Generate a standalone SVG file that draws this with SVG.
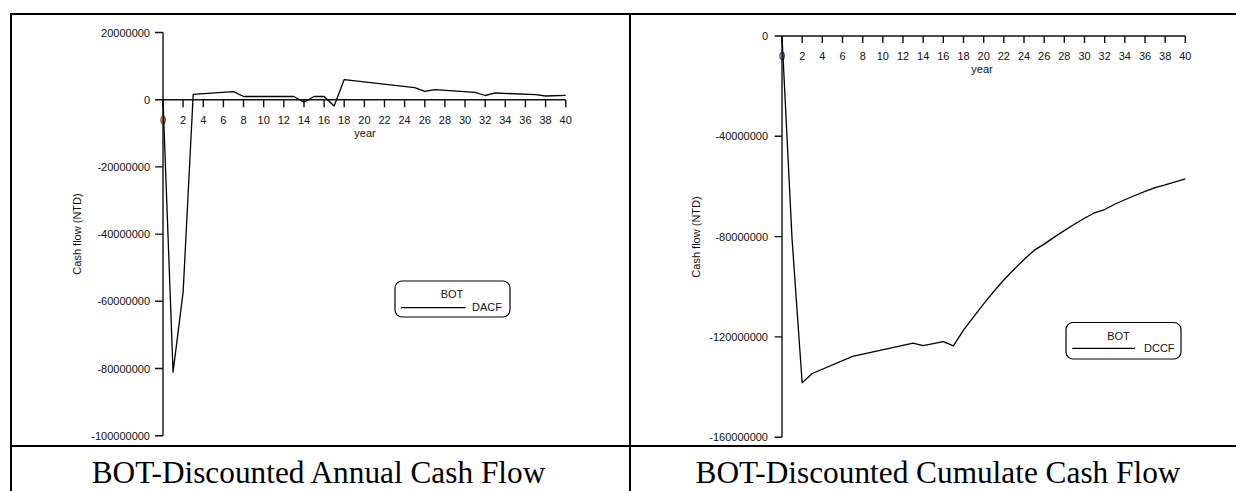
<svg xmlns="http://www.w3.org/2000/svg" width="1236" height="491" viewBox="0 0 1236 491">
  <style>
    .frame { stroke: #000; stroke-width: 2; fill: none; }
    .axis { stroke: #111; stroke-width: 1.4; fill: none; }
    .series { stroke: #000; stroke-width: 1.3; fill: none; stroke-linejoin: round; vector-effect: non-scaling-stroke; }
    .tick { font-family: "Liberation Sans", Arial, sans-serif; font-size: 11px; fill: #111; }
    .ylab { text-anchor: end; }
    .xlab { text-anchor: middle; }
    .legend-box { fill: #fff; stroke: #000; stroke-width: 1.2; }
    .legend-line { stroke: #000; stroke-width: 1.3; }
    .caption { font-family: "Liberation Serif", "Times New Roman", serif; font-size: 31.3px; fill: #000; text-anchor: middle; }
  </style>

  <rect width="1236" height="491" fill="#fff"/>

  <!-- table frame -->
  <g id="frame" class="frame">
    <line x1="10" y1="14" x2="1236" y2="14"/>
    <line x1="11" y1="13" x2="11" y2="491"/>
    <line x1="630" y1="13" x2="630" y2="491"/>
    <line x1="10" y1="446" x2="1236" y2="446"/>
  </g>

  <!-- Annual discounted cash flow chart -->
  <g id="chart-annual">
    <g class="axis">
      <path d="M163 32.5V435.7"/>
      <path d="M155 32.5H163M155 99.7H163M155 166.9H163M155 234.1H163M155 301.3H163M155 368.5H163M155 435.7H163"/>
      <path d="M163 99.7H565.7"/>
      <path d="M163 99.7v7.5M183.1 99.7v7.5M203.3 99.7v7.5M223.4 99.7v7.5M243.5 99.7v7.5M263.7 99.7v7.5M283.8 99.7v7.5M304 99.7v7.5M324.1 99.7v7.5M344.2 99.7v7.5M364.4 99.7v7.5M384.5 99.7v7.5M404.6 99.7v7.5M424.8 99.7v7.5M444.9 99.7v7.5M465 99.7v7.5M485.2 99.7v7.5M505.3 99.7v7.5M525.4 99.7v7.5M545.6 99.7v7.5M565.7 99.7v7.5"/>
    </g>
    <g class="tick ylab">
      <text x="150" y="36.5">20000000</text>
      <text x="150" y="103.7">0</text>
      <text x="150" y="170.9">-20000000</text>
      <text x="150" y="238.1">-40000000</text>
      <text x="150" y="305.3">-60000000</text>
      <text x="150" y="372.5">-80000000</text>
      <text x="150" y="439.7">-100000000</text>
    </g>
    <g class="tick xlab">
      <text x="163" y="124">0</text>
      <text x="183.1" y="124">2</text>
      <text x="203.3" y="124">4</text>
      <text x="223.4" y="124">6</text>
      <text x="243.5" y="124">8</text>
      <text x="263.7" y="124">10</text>
      <text x="283.8" y="124">12</text>
      <text x="304" y="124">14</text>
      <text x="324.1" y="124">16</text>
      <text x="344.2" y="124">18</text>
      <text x="364.4" y="124">20</text>
      <text x="384.5" y="124">22</text>
      <text x="404.6" y="124">24</text>
      <text x="424.8" y="124">26</text>
      <text x="444.9" y="124">28</text>
      <text x="465" y="124">30</text>
      <text x="485.2" y="124">32</text>
      <text x="505.3" y="124">34</text>
      <text x="525.4" y="124">36</text>
      <text x="545.6" y="124">38</text>
      <text x="565.7" y="124">40</text>
      <text x="365" y="136.5">year</text>
    </g>
    <text class="tick xlab" transform="translate(81 234) rotate(-90)">Cash flow (NTD)</text>
    <!-- DACF series: year vs. million NTD -->
    <polyline class="series" transform="translate(163 99.7) scale(10.068 -3.36)"
      points="0,0 1,-81.1 2,-57.2 3,1.6 7,2.4 8,0.95 13,0.95 14,-0.75 15,0.95 16,0.95 17,-1.9 18,6.0 25,3.6 26,2.5 27,3.0 31,2.2 32,1.25 33,2.0 37,1.5 38,1.1 40,1.3"/>
    <g id="legend-annual">
      <rect class="legend-box" x="395" y="281" width="115" height="36" rx="7"/>
      <text class="tick xlab" x="452" y="298.3">BOT</text>
      <line class="legend-line" x1="401" y1="307.7" x2="465.7" y2="307.7"/>
      <text class="tick" x="472" y="311.3">DACF</text>
    </g>
  </g>

  <!-- Cumulative discounted cash flow chart -->
  <g id="chart-cumulative">
    <g class="axis">
      <path d="M782 36V437.2"/>
      <path d="M774.7 36H782M774.7 136.3H782M774.7 236.6H782M774.7 336.9H782M774.7 437.2H782"/>
      <path d="M782 36H1185.3"/>
      <path d="M782 36v7M802.2 36v7M822.3 36v7M842.5 36v7M862.7 36v7M882.8 36v7M903 36v7M923.2 36v7M943.3 36v7M963.5 36v7M983.7 36v7M1003.8 36v7M1024 36v7M1044.2 36v7M1064.3 36v7M1084.5 36v7M1104.7 36v7M1124.8 36v7M1145 36v7M1165.2 36v7M1185.3 36v7"/>
    </g>
    <g class="tick ylab">
      <text x="768" y="40">0</text>
      <text x="768" y="140.3">-40000000</text>
      <text x="768" y="240.6">-80000000</text>
      <text x="768" y="340.9">-120000000</text>
      <text x="768" y="441.2">-160000000</text>
    </g>
    <g class="tick xlab">
      <text x="782" y="59.5">0</text>
      <text x="802.2" y="59.5">2</text>
      <text x="822.3" y="59.5">4</text>
      <text x="842.5" y="59.5">6</text>
      <text x="862.7" y="59.5">8</text>
      <text x="882.8" y="59.5">10</text>
      <text x="903" y="59.5">12</text>
      <text x="923.2" y="59.5">14</text>
      <text x="943.3" y="59.5">16</text>
      <text x="963.5" y="59.5">18</text>
      <text x="983.7" y="59.5">20</text>
      <text x="1003.8" y="59.5">22</text>
      <text x="1024" y="59.5">24</text>
      <text x="1044.2" y="59.5">26</text>
      <text x="1064.3" y="59.5">28</text>
      <text x="1084.5" y="59.5">30</text>
      <text x="1104.7" y="59.5">32</text>
      <text x="1124.8" y="59.5">34</text>
      <text x="1145" y="59.5">36</text>
      <text x="1165.2" y="59.5">38</text>
      <text x="1185.3" y="59.5">40</text>
      <text x="982" y="72.5">year</text>
    </g>
    <text class="tick xlab" transform="translate(700 237) rotate(-90)">Cash flow (NTD)</text>
    <!-- DCCF series: year vs. million NTD (negative down) -->
    <polyline class="series" transform="translate(782 36) scale(10.083 2.5075)"
      points="0,0 1,81.1 2,138.3 3,134.6 7,127.8 13,122.5 14,123.5 15,122.7 16,121.9 17,123.6 18,117.3 19,112 20,106.8 21,101.9 22,97.3 23,93.1 24,89.1 25,85.5 26,83.0 27,80.2 28,77.6 29,75.1 30,72.7 31,70.5 32,69.2 33,67.1 34,65.3 35,63.6 36,62.0 37,60.5 38,59.4 39,58.2 40,57.0"/>
    <g id="legend-cumulative">
      <rect class="legend-box" x="1066" y="322.5" width="115" height="36.5" rx="7"/>
      <text class="tick xlab" x="1118.5" y="339.5">BOT</text>
      <line class="legend-line" x1="1072.3" y1="348.3" x2="1135" y2="348.3"/>
      <text class="tick" x="1144" y="352">DCCF</text>
    </g>
  </g>

  <!-- captions -->
  <g id="captions">
    <text class="caption" x="318.5" y="483">BOT-Discounted Annual Cash Flow</text>
    <text class="caption" x="938" y="483">BOT-Discounted Cumulate Cash Flow</text>
  </g>
</svg>
